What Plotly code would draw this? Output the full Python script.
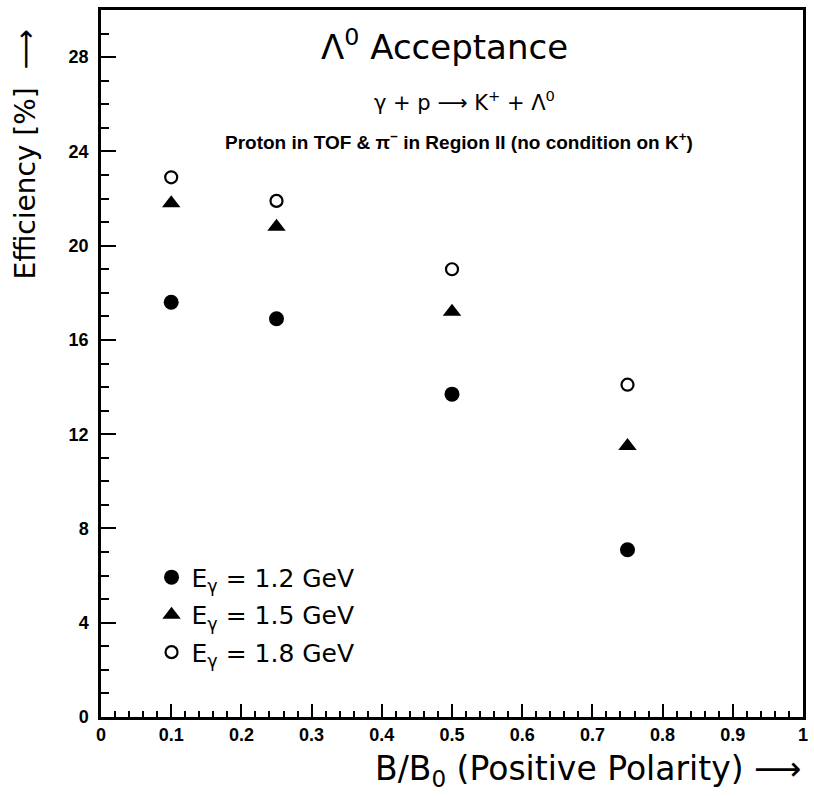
import plotly.graph_objects as go

x_vals = [0.1, 0.25, 0.5, 0.75]
eff_12 = [17.6, 16.9, 13.7, 7.1]
eff_15 = [21.8, 20.8, 17.2, 11.5]
eff_18 = [22.9, 21.9, 19.0, 14.1]
labels = ["E<sub>γ</sub> = 1.2 GeV", "E<sub>γ</sub> = 1.5 GeV", "E<sub>γ</sub> = 1.8 GeV"]

fig = go.Figure()
fig.add_trace(go.Scatter(x=x_vals, y=eff_12, mode="markers", name=labels[0], legendgroup="a",
                         marker=dict(symbol="circle", size=15, color="black")))
fig.add_trace(go.Scatter(x=x_vals, y=eff_15, mode="markers", name=labels[1], legendgroup="b",
                         marker=dict(symbol="triangle-up", size=16, color="black")))
fig.add_trace(go.Scatter(x=x_vals, y=eff_18, mode="markers", name=labels[2], legendgroup="c",
                         marker=dict(symbol="circle-open", size=12, color="black", line=dict(width=2.2))))

tickfont = dict(family="Liberation Sans", size=18, color="black", weight="bold")
fig.update_xaxes(range=[0, 1], tickvals=[0, 0.1, 0.2, 0.3, 0.4, 0.5, 0.6, 0.7, 0.8, 0.9, 1],
                 ticktext=["0", "0.1", "0.2", "0.3", "0.4", "0.5", "0.6", "0.7", "0.8", "0.9", "1"],
                 ticks="inside", ticklen=13, tickwidth=2, tickcolor="black",
                 minor=dict(dtick=0.02, ticks="inside", ticklen=6, tickwidth=1.5, tickcolor="black"),
                 showline=True, linecolor="black", linewidth=2.5, mirror=True,
                 showgrid=False, zeroline=False, tickfont=tickfont)
fig.update_yaxes(range=[0, 30], tickvals=[0, 4, 8, 12, 16, 20, 24, 28],
                 ticks="inside", ticklen=15, tickwidth=2, tickcolor="black",
                 minor=dict(dtick=1, ticks="inside", ticklen=8, tickwidth=1.5, tickcolor="black"),
                 showline=True, linecolor="black", linewidth=2.5, mirror=True,
                 showgrid=False, zeroline=False, tickfont=tickfont, ticklabelstandoff=6)

fig.add_annotation(text="Λ<sup>0</sup> Acceptance", x=0.49, y=0.95, xref="paper", yref="paper",
                   xanchor="center", yanchor="middle",
                   showarrow=False, font=dict(family="DejaVu Sans", size=34, color="black"))
fig.add_annotation(text="γ + p ⟶ K<sup>+</sup> + Λ<sup>0</sup>", x=0.518, y=0.871, xref="paper", yref="paper",
                   xanchor="center", yanchor="middle",
                   showarrow=False, font=dict(family="DejaVu Sans", size=21, color="black"))
fig.add_annotation(text="Proton in TOF &amp; π<sup>−</sup> in Region II (no condition on K<sup>+</sup>)",
                   x=0.51, y=0.815, xref="paper", yref="paper", xanchor="center", yanchor="middle",
                   showarrow=False, font=dict(family="Liberation Sans", size=19, color="black", weight="bold"))
fig.add_annotation(text="Efficiency [%]  ⟶", x=-0.1075, y=0.795, xref="paper", yref="paper",
                   xanchor="center", yanchor="middle",
                   textangle=-90, showarrow=False, font=dict(family="DejaVu Sans", size=28, color="black"))
fig.add_annotation(text="B/B<sub>0</sub> (Positive Polarity) ⟶", x=1.0, y=-0.075, xref="paper", yref="paper",
                   xanchor="right", yanchor="middle", showarrow=False,
                   font=dict(family="DejaVu Sans", size=33, color="black"))

fig.update_layout(width=814, height=796, margin=dict(l=101, r=6, t=10, b=79),
                  plot_bgcolor="white", paper_bgcolor="white",
                  legend=dict(x=0.072, y=0.23, xanchor="left", yanchor="top",
                              font=dict(family="DejaVu Sans", size=25, color="black"),
                              bgcolor="rgba(0,0,0,0)", tracegroupgap=2, itemwidth=30))
fig.write_html("out.html")
